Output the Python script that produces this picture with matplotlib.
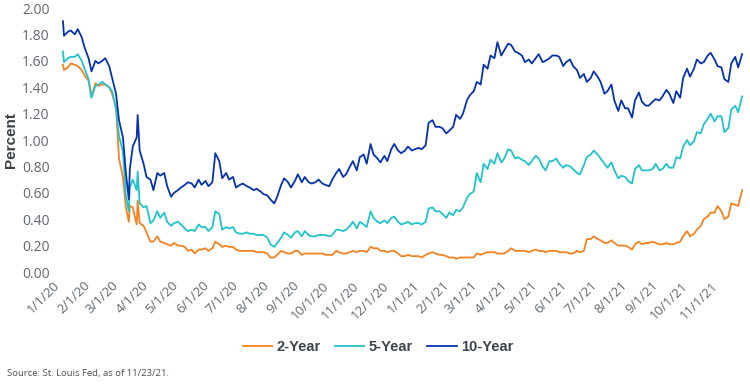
import numpy as np
import pandas as pd
import matplotlib
matplotlib.use('Agg')
import matplotlib.pyplot as plt

# sample dates: tuesdays and fridays, plus a few extra days around the march 2020 swings
base = pd.date_range('2020-01-03', '2021-11-23', freq='W-TUE').union(
    pd.date_range('2020-01-03', '2021-11-23', freq='W-FRI'))
dates = base.union(pd.to_datetime(['2020-01-02', '2020-03-09', '2020-03-18']))

# treasury yields (%), one row per month
two_yr = [
    1.57, 1.53, 1.55, 1.58, 1.57, 1.56, 1.53, 1.49, 1.45, 1.33,        # jan 20
    1.43, 1.41, 1.42, 1.42, 1.40, 1.35, 1.24, 0.86,                    # feb
    0.72, 0.49, 0.38, 0.50, 0.49, 0.36, 0.54, 0.37, 0.35, 0.30, 0.23,  # mar
    0.23, 0.27, 0.23, 0.22, 0.21, 0.20, 0.22, 0.20,                    # apr
    0.20, 0.19, 0.16, 0.17, 0.14, 0.17, 0.17, 0.18, 0.16,              # may
    0.18, 0.23, 0.21, 0.19, 0.20, 0.19, 0.19, 0.17, 0.16,              # jun
    0.16, 0.16, 0.16, 0.16, 0.15, 0.15, 0.15, 0.14, 0.11,              # jul
    0.11, 0.13, 0.16, 0.15, 0.14, 0.14, 0.16, 0.16,                    # aug
    0.13, 0.14, 0.14, 0.14, 0.14, 0.14, 0.14, 0.13, 0.13,              # sep
    0.13, 0.16, 0.15, 0.14, 0.14, 0.15, 0.16, 0.15, 0.16,              # oct
    0.16, 0.15, 0.19, 0.18, 0.18, 0.16, 0.16, 0.15,                    # nov
    0.16, 0.16, 0.14, 0.12, 0.12, 0.13, 0.12, 0.12, 0.12,              # dec
    0.11, 0.13, 0.14, 0.15, 0.14, 0.13, 0.13, 0.12, 0.11,              # jan 21
    0.11, 0.10, 0.11, 0.11, 0.11, 0.11, 0.11, 0.14,                    # feb
    0.13, 0.14, 0.15, 0.15, 0.15, 0.14, 0.14, 0.14, 0.16,              # mar
    0.18, 0.16, 0.16, 0.16, 0.16, 0.15, 0.16, 0.17, 0.16,              # apr
    0.16, 0.15, 0.16, 0.16, 0.16, 0.15, 0.15, 0.15,                    # may
    0.14, 0.14, 0.16, 0.15, 0.16, 0.25, 0.25, 0.27, 0.25,              # jun
    0.24, 0.22, 0.22, 0.24, 0.22, 0.20, 0.20, 0.20, 0.19,              # jul
    0.17, 0.21, 0.23, 0.21, 0.22, 0.22, 0.23, 0.22, 0.21,              # aug
    0.21, 0.22, 0.21, 0.21, 0.22, 0.23, 0.27, 0.31,                    # sep
    0.27, 0.29, 0.32, 0.35, 0.40, 0.42, 0.45, 0.45, 0.50,              # oct
    0.46, 0.40, 0.42, 0.52, 0.51, 0.50, 0.62,                          # nov
]

five_yr = [
    1.67, 1.59, 1.62, 1.63, 1.63, 1.65, 1.60, 1.54, 1.46, 1.32,
    1.41, 1.42, 1.44, 1.42, 1.40, 1.37, 1.24, 1.03,
    0.91, 0.58, 0.46, 0.64, 0.70, 0.62, 0.76, 0.52, 0.49, 0.50, 0.37,
    0.39, 0.46, 0.41, 0.45, 0.38, 0.35, 0.37, 0.38,
    0.36, 0.33, 0.31, 0.32, 0.31, 0.36, 0.34, 0.34, 0.31,
    0.34, 0.46, 0.44, 0.32, 0.34, 0.33, 0.34, 0.30, 0.29,
    0.29, 0.30, 0.29, 0.29, 0.28, 0.28, 0.28, 0.26, 0.21,
    0.19, 0.22, 0.26, 0.30, 0.28, 0.26, 0.30, 0.31,
    0.27, 0.31, 0.28, 0.27, 0.27, 0.28, 0.28, 0.28, 0.27,
    0.28, 0.32, 0.32, 0.31, 0.32, 0.35, 0.38, 0.33, 0.38,
    0.36, 0.34, 0.46, 0.41, 0.38, 0.37, 0.39, 0.37,
    0.41, 0.42, 0.38, 0.36, 0.37, 0.38, 0.36, 0.37, 0.37,
    0.36, 0.38, 0.48, 0.49, 0.46, 0.46, 0.44, 0.41, 0.45,
    0.43, 0.47, 0.46, 0.49, 0.56, 0.59, 0.61, 0.75,
    0.68, 0.82, 0.78, 0.85, 0.82, 0.90, 0.83, 0.86, 0.93,
    0.92, 0.86, 0.87, 0.85, 0.84, 0.81, 0.84, 0.88, 0.86,
    0.80, 0.77, 0.84, 0.84, 0.86, 0.82, 0.79, 0.81,
    0.80, 0.78, 0.75, 0.74, 0.81, 0.87, 0.89, 0.92, 0.89,
    0.86, 0.82, 0.79, 0.83, 0.77, 0.71, 0.73, 0.72, 0.69,
    0.67, 0.78, 0.81, 0.77, 0.77, 0.77, 0.78, 0.82, 0.77,
    0.78, 0.82, 0.79, 0.79, 0.87, 0.86, 0.95, 1.00,
    0.96, 0.99, 1.06, 1.05, 1.12, 1.16, 1.20, 1.14, 1.18,
    1.18, 1.06, 1.09, 1.23, 1.26, 1.21, 1.33,
]

ten_yr = [
    1.90, 1.79, 1.82, 1.83, 1.80, 1.84, 1.78, 1.70, 1.62, 1.52,
    1.60, 1.58, 1.60, 1.62, 1.56, 1.47, 1.35, 1.15,
    1.02, 0.75, 0.55, 0.78, 0.95, 1.02, 1.19, 0.92, 0.82, 0.72, 0.70,
    0.62, 0.75, 0.73, 0.75, 0.65, 0.57, 0.60, 0.62,
    0.64, 0.66, 0.68, 0.67, 0.64, 0.70, 0.66, 0.69, 0.65,
    0.68, 0.90, 0.84, 0.71, 0.75, 0.70, 0.72, 0.64, 0.66,
    0.67, 0.65, 0.64, 0.62, 0.63, 0.61, 0.59, 0.58, 0.55,
    0.52, 0.57, 0.66, 0.71, 0.68, 0.64, 0.69, 0.74,
    0.68, 0.72, 0.68, 0.67, 0.68, 0.70, 0.67, 0.66, 0.65,
    0.70, 0.75, 0.78, 0.72, 0.74, 0.80, 0.84, 0.77, 0.87,
    0.89, 0.82, 0.97, 0.89, 0.86, 0.83, 0.88, 0.84,
    0.93, 0.97, 0.92, 0.90, 0.92, 0.95, 0.92, 0.93, 0.94,
    0.93, 0.96, 1.13, 1.15, 1.10, 1.10, 1.09, 1.05, 1.07,
    1.10, 1.19, 1.16, 1.20, 1.30, 1.34, 1.37, 1.44,
    1.42, 1.57, 1.54, 1.64, 1.62, 1.74, 1.64, 1.68, 1.73,
    1.72, 1.67, 1.66, 1.64, 1.59, 1.61, 1.58, 1.62, 1.65,
    1.59, 1.60, 1.62, 1.64, 1.64, 1.63, 1.56, 1.59,
    1.61, 1.56, 1.53, 1.47, 1.50, 1.44, 1.47, 1.52, 1.48,
    1.44, 1.35, 1.37, 1.42, 1.30, 1.22, 1.30, 1.24, 1.24,
    1.17, 1.30, 1.36, 1.29, 1.26, 1.26, 1.29, 1.31, 1.30,
    1.33, 1.38, 1.35, 1.28, 1.37, 1.32, 1.47, 1.54,
    1.48, 1.54, 1.61, 1.58, 1.59, 1.64, 1.66, 1.61, 1.56,
    1.55, 1.46, 1.44, 1.58, 1.63, 1.55, 1.65,
]

labels = ['2-Year', '5-Year', '10-Year']
colors = ['#f5821f', '#1fc4cc', '#0533b0']
y_ticks = [0.0, 0.2, 0.4, 0.6, 0.8, 1.0, 1.2, 1.4, 1.6, 1.8, 2.0]
month_ticks = pd.date_range('2020-01-01', '2021-11-01', freq='MS')

fig = plt.figure(figsize=(7.5, 3.84), dpi=100)
ax = fig.add_axes([62 / 750, 112 / 384, 686 / 750, 264 / 384])

for series, lab, c in zip([two_yr, five_yr, ten_yr], labels, colors):
    ax.plot(dates, series, color=c, linewidth=1.3, label=lab)

ax.set_ylim(0, 2.0)
ax.set_xlim(pd.Timestamp('2020-01-01'), pd.Timestamp('2021-11-29'))
ax.set_yticks(y_ticks)
ax.set_yticklabels([f'{v:.2f}' for v in y_ticks], fontfamily='Open Sans',
                   fontsize=10, color='#62676e')
ax.set_xticks(month_ticks)
ax.set_xticklabels([f'{d.month}/{d.day}/{d.year % 100}' for d in month_ticks],
                   rotation=45, ha='right', fontfamily='Open Sans',
                   fontsize=9.5, color='#62676e')
ax.tick_params(axis='y', length=0, pad=9)
ax.tick_params(axis='x', length=0, pad=5)
for s in ax.spines.values():
    s.set_visible(False)

ax.set_ylabel('Percent', fontfamily='Liberation Sans', fontweight='bold',
              fontsize=11, color='#3c4043', labelpad=3)

fig.legend(loc='center', bbox_to_anchor=(0.504, 0.097), ncol=3, frameon=False,
           handlelength=2.0, columnspacing=1.0, handletextpad=0.3,
           prop={'family': 'Liberation Sans', 'weight': 'bold', 'size': 10.5},
           labelcolor='#3d4551')

fig.text(0.009, 0.028, 'Source: St. Louis Fed, as of 11/23/21.',
         fontfamily='Open Sans', fontsize=6.8, color='#4a4f55', va='center')

fig.savefig('out.png', dpi=100)
